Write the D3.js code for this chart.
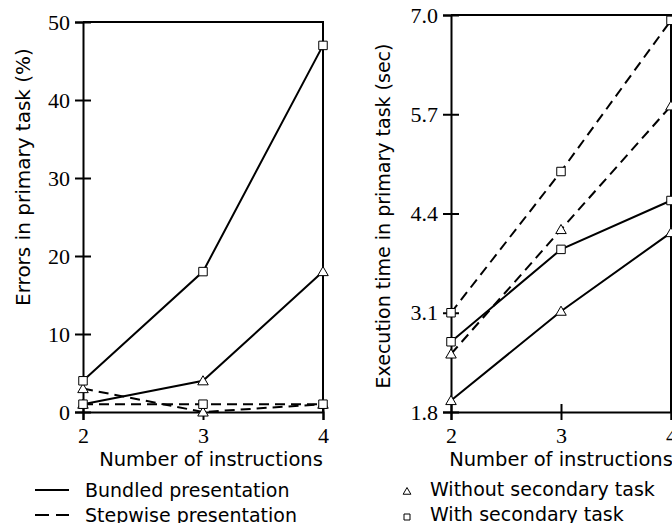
<!DOCTYPE html>
<html>
<head>
<meta charset="utf-8">
<script src="https://cdn.jsdelivr.net/npm/d3@7"></script>
<style>
  body { margin: 0; background: #fff; }
  svg { display: block; }
</style>
</head>
<body>
<div id="chart"></div>
<script>
// number of instructions
const instructions = [2, 3, 4];

// errors in primary task (%)
const errBundledWithout = [1, 4, 18];
const errBundledWith = [4, 18, 47];
const errStepwiseWithout = [3, 0, 1];
const errStepwiseWith = [1, 1, 1];
const errTicks = [0, 10, 20, 30, 40, 50];

// execution time in primary task (sec)
const timeBundledWithout = [1.95, 3.12, 4.15];
const timeBundledWith = [2.72, 3.93, 4.57];
const timeStepwiseWithout = [2.56, 4.19, 5.81];
const timeStepwiseWith = [3.1, 4.95, 6.93];
const timeTicks = [1.8, 3.1, 4.4, 5.7, 7.0];

const W = 672, H = 523;
const serif = "'Liberation Serif', 'DejaVu Serif', serif";
const sans = "'DejaVu Sans', sans-serif";
const sansSize = "19px";

const svg = d3.select("#chart").append("svg")
  .attr("width", W)
  .attr("height", H);

const triPath = d3.symbol().type(d3.symbolTriangle).size(48);
const sqPath = d3.symbol().type(d3.symbolSquare).size(72);

function panel(opts) {
  let x = d3.scaleLinear().domain([2, 4]).range([opts.left, opts.right]);
  let y = d3.scaleLinear().domain(opts.yDomain).range([opts.bottom, opts.top]);

  let g = svg.append("g");

  // frame: top + right border
  g.append("path")
    .attr("d", "M" + opts.left + "," + opts.top + "H" + opts.right + "V" + opts.bottom)
    .attr("fill", "none")
    .attr("stroke", "#000")
    .attr("stroke-width", 2);

  let yAxis = d3.axisLeft(y).tickValues(opts.ticks).tickSize(8).tickPadding(5)
    .tickFormat(opts.fmt);
  let yg = g.append("g")
    .attr("transform", "translate(" + opts.left + ",0)")
    .call(yAxis);
  yg.selectAll(".tick line").attr("x1", 8);

  let xAxis = d3.axisBottom(x).tickValues(instructions).tickSize(8).tickPadding(7)
    .tickFormat(d3.format("d"));
  let xg = g.append("g")
    .attr("transform", "translate(0," + opts.bottom + ")")
    .call(xAxis);
  xg.selectAll(".tick line").attr("y1", -8);

  g.selectAll(".domain").attr("stroke-width", 2);
  g.selectAll(".tick line").attr("stroke-width", 2);
  g.selectAll(".tick text")
    .style("font-family", serif)
    .style("font-size", "22px")
    .attr("fill", "#000");

  let line = d3.line()
    .x((d, i) => x(instructions[i]))
    .y(d => y(d));

  opts.series.forEach(s => {
    g.append("path")
      .datum(s.values)
      .attr("d", line)
      .attr("fill", "none")
      .attr("stroke", "#000")
      .attr("stroke-width", 2)
      .attr("stroke-dasharray", s.dashed ? "10,6" : null);
  });

  opts.series.forEach(s => {
    g.selectAll(null)
      .data(s.values)
      .enter()
      .append("path")
      .attr("transform", (d, i) => "translate(" + x(instructions[i]) + "," + (y(d) + (s.marker === "tri" ? 1 : 0)) + ")")
      .attr("d", s.marker === "tri" ? triPath : sqPath)
      .attr("fill", "#fff")
      .attr("stroke", "#000")
      .attr("stroke-width", 1);
  });

  g.append("text")
    .style("font-family", sans).style("font-size", opts.yLabelSize)
    .attr("transform", "translate(" + opts.yLabelX + "," + opts.yLabelY + ") rotate(-90)")
    .attr("text-anchor", "middle")
    .text(opts.yLabel);

  g.append("text")
    .style("font-family", sans).style("font-size", "19.5px")
    .attr("x", (opts.left + opts.right) / 2 + opts.xLabelShift)
    .attr("y", 466)
    .attr("text-anchor", "middle")
    .text("Number of instructions");
}

panel({
  left: 83, right: 323, top: 22, bottom: 412,
  yDomain: [0, 50], ticks: errTicks, fmt: d3.format("d"),
  yLabel: "Errors in primary task (%)", yLabelX: 30, yLabelY: 177, yLabelSize: "20px",
  xLabelShift: 8,
  series: [
    { values: errBundledWithout, marker: "tri", dashed: false },
    { values: errStepwiseWithout, marker: "tri", dashed: true },
    { values: errBundledWith, marker: "sq", dashed: false },
    { values: errStepwiseWith, marker: "sq", dashed: true }
  ]
});

panel({
  left: 451, right: 671, top: 15, bottom: 412,
  yDomain: [1.8, 7.0], ticks: timeTicks, fmt: d3.format(".1f"),
  yLabel: "Execution time in primary task (sec)", yLabelX: 390, yLabelY: 216, yLabelSize: "19px",
  xLabelShift: 0,
  series: [
    { values: timeBundledWithout, marker: "tri", dashed: false },
    { values: timeStepwiseWithout, marker: "tri", dashed: true },
    { values: timeBundledWith, marker: "sq", dashed: false },
    { values: timeStepwiseWith, marker: "sq", dashed: true }
  ]
});

// legend: line styles
const styleLegend = [
  { label: "Bundled presentation", dashed: false, y: 490 },
  { label: "Stepwise presentation", dashed: true, y: 515 }
];
styleLegend.forEach(d => {
  svg.append("line")
    .attr("x1", 35).attr("x2", 69)
    .attr("y1", d.y).attr("y2", d.y)
    .attr("stroke", "#000")
    .attr("stroke-width", 2)
    .attr("stroke-dasharray", d.dashed ? "14,7" : null);
  svg.append("text")
    .style("font-family", sans).style("font-size", sansSize)
    .attr("x", 85)
    .attr("y", d.y + 7)
    .text(d.label);
});

// legend: markers
const markerLegend = [
  { label: "Without secondary task", marker: "tri", y: 490 },
  { label: "With secondary task", marker: "sq", y: 515 }
];
markerLegend.forEach(d => {
  svg.append("path")
    .attr("transform", "translate(407," + (d.y + 2) + ")")
    .attr("d", d3.symbol().type(d.marker === "tri" ? d3.symbolTriangle : d3.symbolSquare).size(d.marker === "tri" ? 26 : 36))
    .attr("fill", "#fff")
    .attr("stroke", "#000")
    .attr("stroke-width", 1);
  svg.append("text")
    .style("font-family", sans).style("font-size", sansSize)
    .attr("x", 430)
    .attr("y", d.y + 6)
    .text(d.label);
});
</script>
</body>
</html>
